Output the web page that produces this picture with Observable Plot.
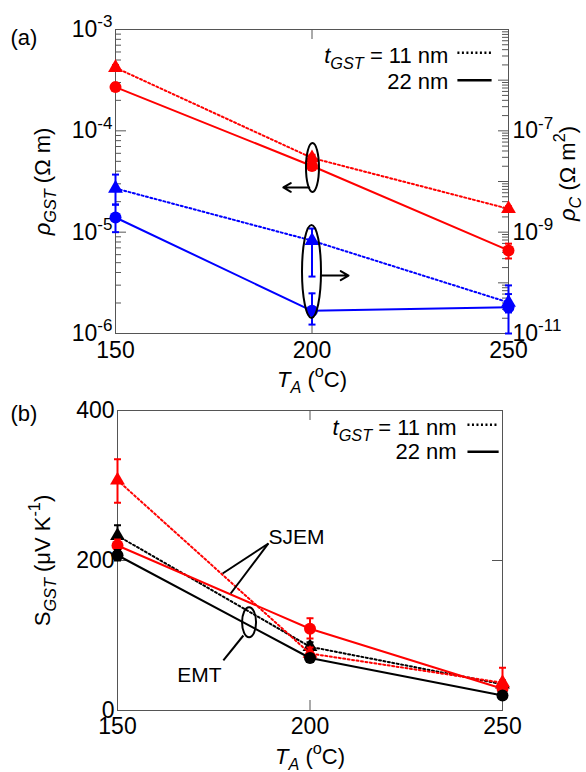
<!DOCTYPE html>
<html><head><meta charset="utf-8">
<script src="https://cdn.jsdelivr.net/npm/d3@7"></script>
<script src="https://cdn.jsdelivr.net/npm/@observablehq/plot@0.6"></script>
<style>body{margin:0;background:#fff;} #chart svg{display:block;}</style>
</head><body><div id="chart"></div>
<script>
// ---------- data ----------
const TA = [150, 200, 250];
const xTickLabels = [150, 200, 250];
const xInnerTicks = [200];

// (a) rho_GST (left axis, Ω m)
const rhoGST_11nm    = [4.2e-4, 5.4e-5, 1.7e-5];
const rhoGST_11nm_lo = [3.95e-4, 5.1e-5, 1.6e-5];
const rhoGST_11nm_hi = [4.45e-4, 5.8e-5, 1.8e-5];
const rhoGST_22nm    = [2.7e-4, 4.5e-5, 6.6e-6];
const rhoGST_22nm_lo = [2.5e-4, 4.2e-5, 5.5e-6];
const rhoGST_22nm_hi = [2.95e-4, 4.9e-5, 7.7e-6];
// (a) rho_C (right axis, Ω m^2)
const rhoC_11nm    = [7.3e-9, 6.8e-10, 4.1e-11];
const rhoC_11nm_lo = [3.5e-9, 1.33e-10, 2.6e-11];
const rhoC_11nm_hi = [1.37e-8, 1.18e-9, 6.0e-11];
const rhoC_22nm    = [1.95e-9, 2.8e-11, 3.3e-11];
const rhoC_22nm_lo = [1.0e-9, 1.5e-11, 1.0e-11];
const rhoC_22nm_hi = [3.5e-9, 6.2e-11, 8.9e-11];
const rhoGST_labelExp = [-3, -4, -5, -6];
const rhoGST_decades = [-6, -5, -4, -3];
const rhoC_labelExp = [-7, -9, -11];
const rhoC_decades = [-11, -10, -9, -8, -7, -6, -5];

// (b) S_GST (μV/K)
const S_red_11nm    = [307, 76, 37];
const S_red_11nm_lo = [277, 68, 22];
const S_red_11nm_hi = [335, 84, 57];
const S_red_22nm    = [220, 109, 29];
const S_red_22nm_lo = [212, 96, 25];
const S_red_22nm_hi = [228, 123, 33];
const S_blk_11nm    = [233, 85, 35];
const S_blk_11nm_lo = [219, 79, 30];
const S_blk_11nm_hi = [247, 91, 40];
const S_blk_22nm    = [207, 70, 20];
const S_blk_22nm_lo = [200, 65, 16];
const S_blk_22nm_hi = [214, 75, 24];
const S_tickLabels = [0, 200, 400];
const S_innerTicks = [200];

// annotations (data coordinates)
const legendLabels = ["*t*_{*GST*} = 11 nm", "22 nm"];
const legendA_y = [5.54e-4, 3.07e-4];
const legendA_lineY = [5.9e-4, 3.15e-4];
const legendAx = {text: 234.7, x1: 237.0, x2: 245.7};
const legendB_y = [377, 345];
const legendB_lineY = [381, 345];
const legendBx = {text: 238.1, x1: 240.9, x2: 249.0};
const ellipsesA = [{x: 200.25, y: 4.3e-5, rx: 6.5, ry: 24.5}, {x: 200, y: 4.05e-6, rx: 9.5, ry: 46.5}];
const arrowsA = [{x1: 199.3, x2: 192.7, y: 2.76e-5}, {x1: 202.4, x2: 209.3, y: 3.73e-6}];
const ellipsesB = [{x: 184.3, y: 117, rx: 7, ry: 15}];
const linksB = [{x1: 189.2, y1: 222.7, x2: 177.3, y2: 182.7},
                {x1: 189.2, y1: 222.7, x2: 179.4, y2: 156},
                {x1: 177.5, y1: 66.7, x2: 182.7, y2: 100}];
const labelSJEM = [{t: "SJEM", x: 189.2, y: 230.7}];
const labelEMT = [{t: "EMT", x: 171.3, y: 46.7}];

// ---------- helpers ----------
const FONT = "Arial, 'Liberation Sans', sans-serif";
const RED = "#ff0000", BLUE = "#0000ff", BLACK = "#000000", AXIS = "#555555";
const DOT = "2,2.5";
const TICKFS = 23, TXTFS = 22;
const rows = (v, lo, hi) => TA.map((t, i) => ({t, v: v[i], lo: lo[i], hi: hi[i]}));
const toLeft = v => 10 ** (-6 + (Math.log10(v) + 11) / 2); // right axis -> left axis units
const capSymbol = {draw(ctx, size) { const w = Math.sqrt(size / Math.PI); ctx.moveTo(-w, 0); ctx.lineTo(w, 0); }};
const minorOf = decs => decs.slice(0, -1).flatMap(e => [2,3,4,5,6,7,8,9].map(k => k * 10 ** e));

function series(data, color, dash, symbol, r, f = d => d) {
  return [
    Plot.line(data, {x: "t", y: d => f(d.v), stroke: color, strokeWidth: 2, strokeDasharray: dash}),
    Plot.ruleX(data, {x: "t", y1: d => f(d.lo), y2: d => f(d.hi), stroke: color, strokeWidth: 2}),
    Plot.dot(data, {x: "t", y: d => f(d.lo), symbol: capSymbol, r: 3.5, stroke: color, strokeWidth: 2, fill: "none"}),
    Plot.dot(data, {x: "t", y: d => f(d.hi), symbol: capSymbol, r: 3.5, stroke: color, strokeWidth: 2, fill: "none"}),
    Plot.dot(data, {x: "t", y: d => f(d.v), symbol, r, fill: color, stroke: "none"})
  ];
}
function ellipses(data) {
  return (index, scales) => {
    const g = d3.create("svg:g").attr("fill", "none").attr("stroke", "black").attr("stroke-width", 2);
    for (const d of data) g.append("ellipse").attr("cx", scales.x(d.x)).attr("cy", scales.y(d.y)).attr("rx", d.rx).attr("ry", d.ry);
    return g.node();
  };
}
function legendMarks(ys, lineYs, lx) {
  return [
    Plot.text(legendLabels, {x: () => lx.text, y: (d, i) => ys[i], text: d => d, textAnchor: "end", lineAnchor: "middle", fontSize: TXTFS, fill: "black"}),
    Plot.link([lineYs[0]], {x1: () => lx.x1, x2: () => lx.x2, y1: d => d, y2: d => d, stroke: "black", strokeWidth: 2.5, strokeDasharray: DOT}),
    Plot.link([lineYs[1]], {x1: () => lx.x1, x2: () => lx.x2, y1: d => d, y2: d => d, stroke: "black", strokeWidth: 2.5})
  ];
}
function parseRich(s) {
  const out = []; const re = /([_^])\{([^}]*)\}|\*([^*]+)\*|([^*_^]+)/g; let m;
  while ((m = re.exec(s))) {
    if (m[1]) { let t = m[2], it = false; if (/^\*.*\*$/.test(t)) { t = t.slice(1, -1); it = true; }
      out.push({text: t, italic: it, shift: m[1] === "_" ? "sub" : "sup"}); }
    else if (m[3]) out.push({text: m[3], italic: true});
    else out.push({text: m[4]});
  }
  return out;
}
function richify(svg) {
  const NS = "http://www.w3.org/2000/svg";
  svg.querySelectorAll("text").forEach(t => {
    const s = t.textContent;
    if (!/[_^*]/.test(s)) return;
    const parts = parseRich(s);
    t.textContent = "";
    let shift = 0;
    for (const p of parts) {
      const ts = document.createElementNS(NS, "tspan");
      ts.textContent = p.text;
      if (p.italic) ts.setAttribute("font-style", "italic");
      const target = p.shift === "sub" ? 0.28 : p.shift === "sup" ? -0.42 : 0;
      if (p.shift) ts.setAttribute("font-size", "74%");
      const delta = target - shift;
      if (delta) ts.setAttribute("dy", (p.shift ? delta / 0.74 : delta).toFixed(3) + "em");
      shift = target;
      t.appendChild(ts);
    }
  });
  return svg;
}
const T = (data, opts) => Plot.text(data, {lineAnchor: "middle", fill: "black", ...opts});

const W = 586;
// ---------- panel (a) ----------
const A = {h: 390, ml: 115, mr: 78, mt: 29, mb: 57};
const aW = W - A.ml - A.mr, aH = A.h - A.mt - A.mb;
const rightMajor = rhoC_decades.map(e => toLeft(10 ** e));
const rightMinor = minorOf(rhoC_decades).map(toLeft);

const plotA = Plot.plot({
  width: W, height: A.h, marginLeft: A.ml, marginRight: A.mr, marginTop: A.mt, marginBottom: A.mb,
  style: {fontFamily: FONT, fontSize: "21px", background: "white", overflow: "visible"},
  x: {domain: [150, 250], axis: null},
  y: {type: "log", domain: [1e-6, 1e-3], axis: null},
  marks: [
    Plot.frame({stroke: AXIS}),
    Plot.tickY(rhoGST_decades.map(e => 10 ** e), {y: d => d, insetRight: aW - 11, stroke: AXIS}),
    Plot.tickY(minorOf(rhoGST_decades), {y: d => d, insetRight: aW - 6, stroke: AXIS}),
    Plot.tickY(rightMajor, {y: d => d, insetLeft: aW - 10, stroke: AXIS}),
    Plot.tickY(rightMinor, {y: d => d, insetLeft: aW - 6, stroke: AXIS}),
    Plot.tickX(xInnerTicks, {x: d => d, insetTop: aH - 10, stroke: AXIS}),
    Plot.tickX(xInnerTicks, {x: d => d, insetBottom: aH - 10, stroke: AXIS}),
    T(rhoGST_labelExp, {y: e => 10 ** e, text: e => `10^{${e}}`, frameAnchor: "left", textAnchor: "end", dx: -3, fontSize: TICKFS}),
    T(rhoC_labelExp, {y: e => toLeft(10 ** e), text: e => `10^{${e}}`, frameAnchor: "right", textAnchor: "start", dx: 4, fontSize: TICKFS}),
    T(xTickLabels, {x: d => d, text: d => String(d), frameAnchor: "bottom", textAnchor: "middle", dy: 17, fontSize: TICKFS}),
    T(["*T*_{*A*} (^{o}C)"], {text: d => d, frameAnchor: "bottom", textAnchor: "middle", dy: 46, fontSize: TXTFS}),
    T(["*ρ*_{*GST*} (Ω m)"], {text: d => d, frameAnchor: "left", textAnchor: "middle", rotate: -90, dx: -73, fontSize: TXTFS}),
    T(["*ρ*_{*C*} (Ω m^{2})"], {text: d => d, frameAnchor: "right", textAnchor: "middle", rotate: -90, dx: 59, dy: -8, fontSize: TXTFS}),
    T(["(a)"], {text: d => d, frameAnchor: "top-left", textAnchor: "start", dx: -105, dy: 8, fontSize: TXTFS}),
    ...series(rows(rhoC_11nm, rhoC_11nm_lo, rhoC_11nm_hi), BLUE, DOT, "triangle", 5.5, toLeft),
    ...series(rows(rhoC_22nm, rhoC_22nm_lo, rhoC_22nm_hi), BLUE, null, "circle", 6, toLeft),
    ...series(rows(rhoGST_11nm, rhoGST_11nm_lo, rhoGST_11nm_hi), RED, DOT, "triangle", 5.5),
    ...series(rows(rhoGST_22nm, rhoGST_22nm_lo, rhoGST_22nm_hi), RED, null, "circle", 6),
    ellipses(ellipsesA),
    Plot.arrow(arrowsA, {x1: "x1", x2: "x2", y1: "y", y2: "y", stroke: "black", strokeWidth: 2, headLength: 9}),
    ...legendMarks(legendA_y, legendA_lineY, legendAx)
  ]
});

// ---------- panel (b) ----------
const B = {h: 382, ml: 117, mr: 84, mt: 20, mb: 62};
const bW = W - B.ml - B.mr, bH = B.h - B.mt - B.mb;
const plotB = Plot.plot({
  width: W, height: B.h, marginLeft: B.ml, marginRight: B.mr, marginTop: B.mt, marginBottom: B.mb,
  style: {fontFamily: FONT, fontSize: "21px", background: "white", overflow: "visible"},
  x: {domain: [150, 250], axis: null},
  y: {domain: [0, 400], axis: null},
  marks: [
    Plot.frame({stroke: AXIS}),
    Plot.tickY(S_innerTicks, {y: d => d, insetRight: bW - 10, stroke: AXIS}),
    Plot.tickY(S_innerTicks, {y: d => d, insetLeft: bW - 10, stroke: AXIS}),
    Plot.tickX(xInnerTicks, {x: d => d, insetTop: bH - 10, stroke: AXIS}),
    Plot.tickX(xInnerTicks, {x: d => d, insetBottom: bH - 10, stroke: AXIS}),
    T(S_tickLabels, {y: d => d, text: d => String(d), frameAnchor: "left", textAnchor: "end", dx: -3, fontSize: TICKFS}),
    T(xTickLabels, {x: d => d, text: d => String(d), frameAnchor: "bottom", textAnchor: "middle", dy: 16, fontSize: TICKFS}),
    T(["*T*_{*A*} (^{o}C)"], {text: d => d, frameAnchor: "bottom", textAnchor: "middle", dy: 46, fontSize: TXTFS}),
    T(["S_{*GST*} (μV K^{-1})"], {text: d => d, frameAnchor: "left", textAnchor: "middle", rotate: -90, dx: -75, fontSize: TXTFS}),
    T(["(b)"], {text: d => d, frameAnchor: "top-left", textAnchor: "start", dx: -107, dy: 3, fontSize: TXTFS}),
    ...series(rows(S_blk_11nm, S_blk_11nm_lo, S_blk_11nm_hi), BLACK, DOT, "triangle", 5.5),
    ...series(rows(S_red_11nm, S_red_11nm_lo, S_red_11nm_hi), RED, DOT, "triangle", 5.5),
    ...series(rows(S_red_22nm, S_red_22nm_lo, S_red_22nm_hi), RED, null, "circle", 6),
    ...series(rows(S_blk_22nm, S_blk_22nm_lo, S_blk_22nm_hi), BLACK, null, "circle", 6),
    ellipses(ellipsesB),
    Plot.link(linksB, {x1: "x1", y1: "y1", x2: "x2", y2: "y2", stroke: "black", strokeWidth: 2}),
    T(labelSJEM, {x: "x", y: "y", text: "t", textAnchor: "start", fontSize: 21}),
    T(labelEMT, {x: "x", y: "y", text: "t", textAnchor: "middle", fontSize: 21}),
    ...legendMarks(legendB_y, legendB_lineY, legendBx)
  ]
});

const root = document.getElementById("chart");
root.appendChild(richify(plotA));
root.appendChild(richify(plotB));
</script>
</body></html>
